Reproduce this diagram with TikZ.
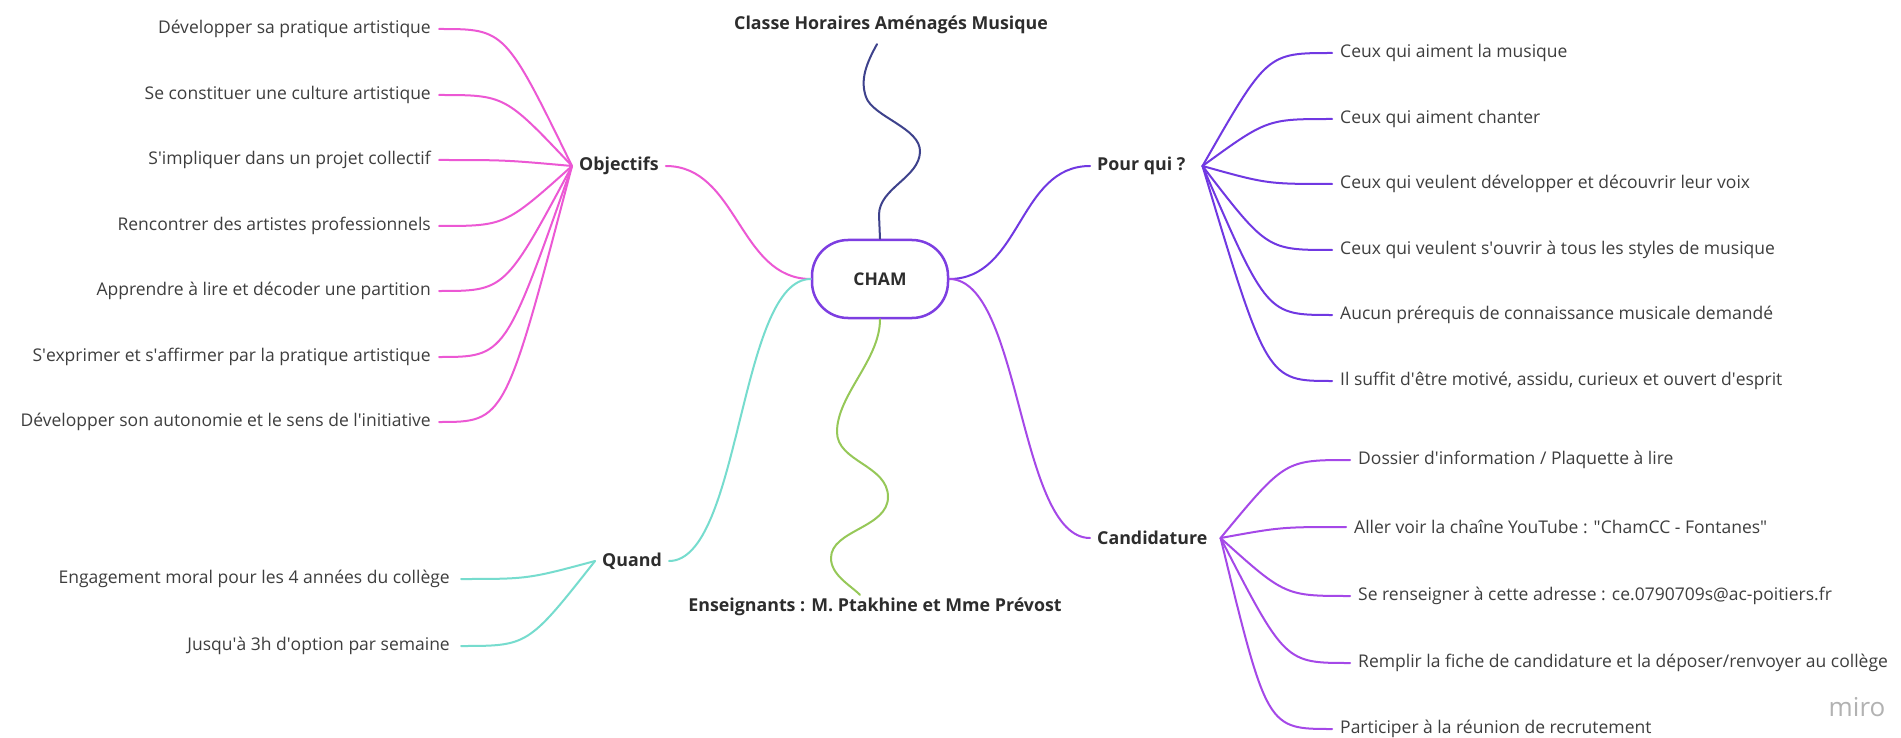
\documentclass[tikz,border=0pt]{standalone}
\usepackage{fontspec}
\setmainfont{Open Sans}
\definecolor{cpink}{RGB}{236,88,212}
\definecolor{cteal}{RGB}{118,220,206}
\definecolor{cpq}{RGB}{112,56,226}
\definecolor{ccand}{RGB}{165,72,232}
\definecolor{cnavy}{RGB}{62,66,140}
\definecolor{cgreen}{RGB}{150,200,88}
\definecolor{cbox}{RGB}{125,62,225}
\definecolor{ctext}{RGB}{45,45,45}
\definecolor{citem}{RGB}{62,62,62}
\definecolor{cmiro}{RGB}{178,178,178}
\newcommand{\aq}{\textquotesingle}
\tikzset{
  item/.style={font=\fontsize{17.5}{21}\selectfont, text=citem, inner xsep=8pt, inner ysep=2pt},
  head/.style={font=\bfseries\fontsize{17.8}{21}\selectfont, text=ctext, inner xsep=7pt, inner ysep=3pt},
  link/.style={line width=2pt, line cap=round},
}
\begin{document}
\begin{tikzpicture}[x=1pt,y=-1pt]
\useasboundingbox[fill=white] (0,0) rectangle (1901,738);

% centre
\node[draw=cbox, line width=2.5pt, rounded corners=36pt, minimum width=136pt, minimum height=78pt,
      font=\bfseries\fontsize{17.5}{21}\selectfont, text=ctext] (cham) at (880,279) {CHAM};

% headers
\node[head, anchor=west] (obj) at (572,166) {Objectifs};
\node[head, anchor=east] (qd) at (669,561) {Quand};
\node[head, anchor=west] (pq) at (1090,166) {Pour qui ?};
\node[head, anchor=west] (cand) at (1090,538) {Candidature};
\node[head] (cls) at (891,25) {Classe Horaires Aménagés Musique};
\node[head] (ens) at (875,607) {Enseignants : M. Ptakhine et Mme Prévost};
\coordinate (pqj) at ([xshift=10pt]pq.east);
\coordinate (cdj) at ([xshift=6pt]cand.east);

% objectifs items
\node[item, anchor=east] (o1) at (439,29) {Développer sa pratique artistique};
\node[item, anchor=east] (o2) at (439,95) {Se constituer une culture artistique};
\node[item, anchor=east] (o3) at (439,160) {S\aq impliquer dans un projet collectif};
\node[item, anchor=east] (o4) at (439,226) {Rencontrer des artistes professionnels};
\node[item, anchor=east] (o5) at (439,291) {Apprendre à lire et décoder une partition};
\node[item, anchor=east] (o6) at (439,357) {S\aq exprimer et s\aq affirmer par la pratique artistique};
\node[item, anchor=east] (o7) at (439,422) {Développer son autonomie et le sens de l\aq initiative};

% quand items
\node[item, anchor=east, inner xsep=11pt] (q1) at (461,579) {Engagement moral pour les 4 années du collège};
\node[item, anchor=east, inner xsep=11pt] (q2) at (461,646) {Jusqu\aq à 3h d\aq option par semaine};

% pour qui items
\node[item, anchor=west] (p1) at (1332,53) {Ceux qui aiment la musique};
\node[item, anchor=west] (p2) at (1332,119) {Ceux qui aiment chanter};
\node[item, anchor=west] (p3) at (1332,184) {Ceux qui veulent développer et découvrir leur voix};
\node[item, anchor=west] (p4) at (1332,250) {Ceux qui veulent s\aq ouvrir à tous les styles de musique};
\node[item, anchor=west] (p5) at (1332,315) {Aucun prérequis de connaissance musicale demandé};
\node[item, anchor=west] (p6) at (1332,381) {Il suffit d\aq être motivé, assidu, curieux et ouvert d\aq esprit};

% candidature items
\node[item, anchor=west] (c1) at (1350,460) {Dossier d\aq information / Plaquette à lire};
\node[item, anchor=west] (c2) at (1346,527) {Aller voir la chaîne YouTube : \textquotedbl ChamCC - Fontanes\textquotedbl};
\node[item, anchor=west] (c3) at (1350,596) {Se renseigner à cette adresse : ce.0790709s@ac-poitiers.fr};
\node[item, anchor=west] (c4) at (1350,663) {Remplir la fiche de candidature et la déposer/renvoyer au collège};
\node[item, anchor=west] (c5) at (1332,729) {Participer à la réunion de recrutement};

\node[text=cmiro, font=\fontsize{26}{30}\selectfont] (miro) at (1857,707) {miro};

% main branches
\draw[link, cpink] (obj.east) to[out=0,in=180,out distance=72pt,in distance=72pt] (cham.west);
\draw[link, cteal] (cham.west) to[out=180,in=0,out distance=72pt,in distance=72pt] (qd.east);
\draw[link, cpq] (cham.east) to[out=0,in=180,out distance=72pt,in distance=72pt] (pq.west);
\draw[link, ccand] (cham.east) to[out=0,in=180,out distance=72pt,in distance=72pt] (cand.west);

% navy wavy line
\draw[link, cnavy] ([xshift=-14pt,yshift=-7pt]cls.south) .. controls (866,64) and (860,80) .. (866,97)
  .. controls (873,117) and (921,128) .. (920,152)
  .. controls (919,178) and (879,188) .. (879,215) -- (cham.north);

% green wavy line
\draw[link, cgreen] (cham.south) .. controls (880,360) and (837,395) .. (837,432)
  .. controls (837,462) and (888,465) .. (888,497)
  .. controls (888,528) and (831,530) .. (831,558)
  .. controls (831,575) and (850,585) .. ([xshift=-15pt]ens.north);

% fans
\foreach \n in {o1,o2,o3,o4,o5,o6,o7}
  \draw[link, cpink] (\n.east) .. controls +(66,0) .. (obj.west);
\foreach \n in {q1,q2}
  \draw[link, cteal] (\n.east) .. controls +(67,0) .. (qd.west);
\foreach \n in {p1,p2,p3,p4,p5,p6}
  \draw[link, cpq] (\n.west) .. controls +(-65,0) .. (pqj);
\foreach \n in {c1,c2,c3,c4,c5}
  \draw[link, ccand] (\n.west) .. controls +(-65,0) .. (cdj);
\end{tikzpicture}
\end{document}
